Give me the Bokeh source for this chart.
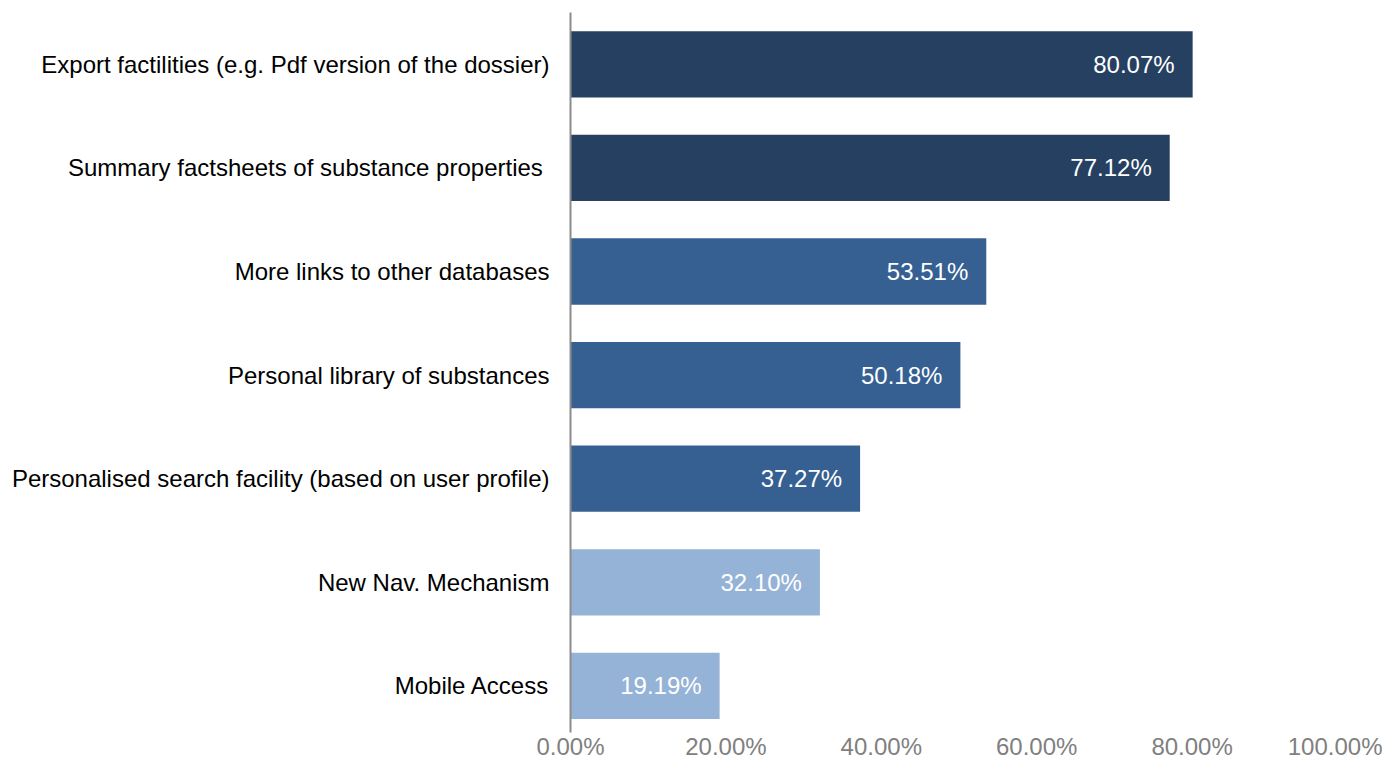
from bokeh.plotting import figure
from bokeh.models import Range1d, FixedTicker, ColumnDataSource
from bokeh.core.properties import value
from bokeh.embed import file_html
from bokeh.resources import INLINE

categories = [
    "Export factilities (e.g. Pdf version of the dossier)",
    "Summary factsheets of substance properties ",
    "More links to other databases",
    "Personal library of substances",
    "Personalised search facility (based on user profile)",
    "New Nav. Mechanism",
    "Mobile Access",
]
values = [80.07, 77.12, 53.51, 50.18, 37.27, 32.10, 19.19]
colors = ["#264061", "#264061", "#366092", "#366092", "#366092", "#95B3D7", "#95B3D7"]
x_ticks = [0, 20, 40, 60, 80, 100]

ypos = list(range(len(categories)))
labels = ["%.2f%%" % v for v in values]
src = ColumnDataSource(dict(y=ypos, v=values, c=colors, lab=labels))

FONT = "Liberation Sans"

p = figure(width=1382, height=762, output_backend="svg", toolbar_location=None,
           x_range=Range1d(0, 100), y_range=Range1d(6.45, -0.5),
           min_border_left=570, min_border_right=35, min_border_top=12, min_border_bottom=0)
p.outline_line_color = None
p.grid.visible = False
p.background_fill_color = "white"
p.border_fill_color = "white"

p.hbar(y="y", right="v", left=0, height=0.64, fill_color="c", line_color=None, source=src)
p.text(x="v", y="y", text="lab", source=src, text_align="right", text_baseline="middle",
       x_offset=-18, text_color="white", text_font=value(FONT), text_font_size="24px")

ya = p.yaxis[0]
ya.ticker = FixedTicker(ticks=ypos)
ya.major_label_overrides = {i: c for i, c in enumerate(categories)}
ya.major_tick_line_color = None
ya.minor_tick_line_color = None
ya.axis_line_color = "#8c8c8c"
ya.axis_line_width = 2
ya.major_label_standoff = 15
ya.major_label_text_font = FONT
ya.major_label_text_font_size = "24px"
ya.major_label_text_color = "#000000"

xa = p.xaxis[0]
xa.ticker = FixedTicker(ticks=x_ticks)
xa.major_label_overrides = {t: "%.2f%%" % t for t in x_ticks}
xa.axis_line_color = None
xa.major_tick_line_color = None
xa.minor_tick_line_color = None
xa.major_label_standoff = -6
xa.major_label_text_font = FONT
xa.major_label_text_font_size = "24px"
xa.major_label_text_color = "#808080"

open("out.html", "w").write(file_html(p, INLINE))
